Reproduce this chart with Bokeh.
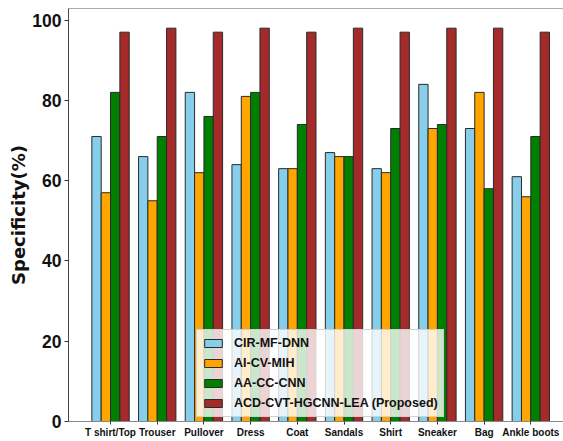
from bokeh.plotting import figure
from bokeh.models import ColumnDataSource, Range1d, FixedTicker, Legend, LegendItem, LinearAxis
from bokeh.transform import dodge
from bokeh.embed import file_html
from bokeh.resources import INLINE

categories = ["T shirt/Top", "Trouser", "Pullover", "Dress", "Coat",
              "Sandals", "Shirt", "Sneaker", "Bag", "Ankle boots"]
series_names = ["CIR-MF-DNN", "AI-CV-MIH", "AA-CC-CNN", "ACD-CVT-HGCNN-LEA (Proposed)"]
cir_mf_dnn = [71, 66, 82, 64, 63, 67, 63, 84, 73, 61]
ai_cv_mih = [57, 55, 62, 81, 63, 66, 62, 73, 82, 56]
aa_cc_cnn = [82, 71, 76, 82, 74, 66, 73, 74, 58, 71]
proposed = [97, 98, 97, 98, 97, 98, 97, 98, 98, 97]
y_ticks = [0, 20, 40, 60, 80, 100]

colors = ["#87CEEB", "#FFA500", "#008000", "#A52A2A"]
offsets = [-0.3, -0.1, 0.1, 0.3]
bar_w = 0.2

idx = list(range(len(categories)))
source = ColumnDataSource(data=dict(x=idx, s0=cir_mf_dnn, s1=ai_cv_mih, s2=aa_cc_cnn, s3=proposed))

p = figure(width=563, height=441, output_backend="svg", toolbar_location=None,
           x_range=Range1d(-0.9, 9.7), y_range=Range1d(0, 102.9),
           min_border_left=68, min_border_right=0, min_border_top=8, min_border_bottom=20)

renderers = []
for i, key in enumerate(["s0", "s1", "s2", "s3"]):
    r = p.vbar(x=dodge("x", offsets[i], range=p.x_range), top=key, width=bar_w, bottom=0,
               source=source, fill_color=colors[i], line_color="#2a2a2a", line_width=1)
    renderers.append(r)

legend = Legend(items=[LegendItem(label=series_names[i], renderers=[renderers[i]]) for i in range(4)],
                location=(128, 4))
legend.label_text_font = "Liberation Sans"
legend.label_text_font_style = "bold"
legend.label_text_font_size = "12.5px"
legend.label_text_color = "#111111"
legend.glyph_width = 22
legend.glyph_height = 10
legend.label_height = 16
legend.label_standoff = 10
legend.spacing = 4
legend.padding = 5
legend.margin = 0
legend.background_fill_color = "white"
legend.background_fill_alpha = 0.8
legend.border_line_color = "#cccccc"
legend.border_line_alpha = 0.9
p.add_layout(legend, "center")

p.xgrid.visible = False
p.ygrid.visible = False
p.outline_line_color = None

xax = p.below[0]
xax.ticker = FixedTicker(ticks=idx)
xax.major_label_overrides = {i: c for i, c in enumerate(categories)}
xax.major_label_text_font = "Liberation Sans"
xax.major_label_text_font_style = "bold"
xax.major_label_text_font_size = "10px"
xax.major_label_text_color = "#111111"
xax.major_label_standoff = 2
xax.major_tick_out = 3
xax.major_tick_in = 0
xax.minor_tick_line_color = None
xax.axis_line_color = "#888888"
xax.major_tick_line_color = "#333333"

top_axis = LinearAxis(ticker=FixedTicker(ticks=[]), major_label_text_font_size="0px",
                      major_tick_out=0, major_tick_in=0, minor_tick_out=0, minor_tick_in=0,
                      major_label_standoff=0, axis_label_standoff=0,
                      axis_line_color="#aaaaaa", axis_line_width=1)
p.add_layout(top_axis, "above")

yax = p.left[0]
yax.ticker = FixedTicker(ticks=y_ticks)
yax.major_label_text_font = "Liberation Sans"
yax.major_label_text_font_style = "bold"
yax.major_label_text_font_size = "17.5px"
yax.major_label_text_color = "#111111"
yax.major_label_standoff = 3
yax.major_tick_out = 4
yax.major_tick_in = 0
yax.minor_tick_line_color = None
yax.axis_line_color = "#444444"
yax.major_tick_line_color = "#333333"
yax.axis_label = "Specificity(%)"
yax.axis_label_text_font = "DejaVu Sans"
yax.axis_label_text_font_style = "bold"
yax.axis_label_text_font_size = "18px"
yax.axis_label_text_color = "#111111"
yax.axis_label_standoff = 0

open("out.html", "w").write(file_html(p, INLINE))
